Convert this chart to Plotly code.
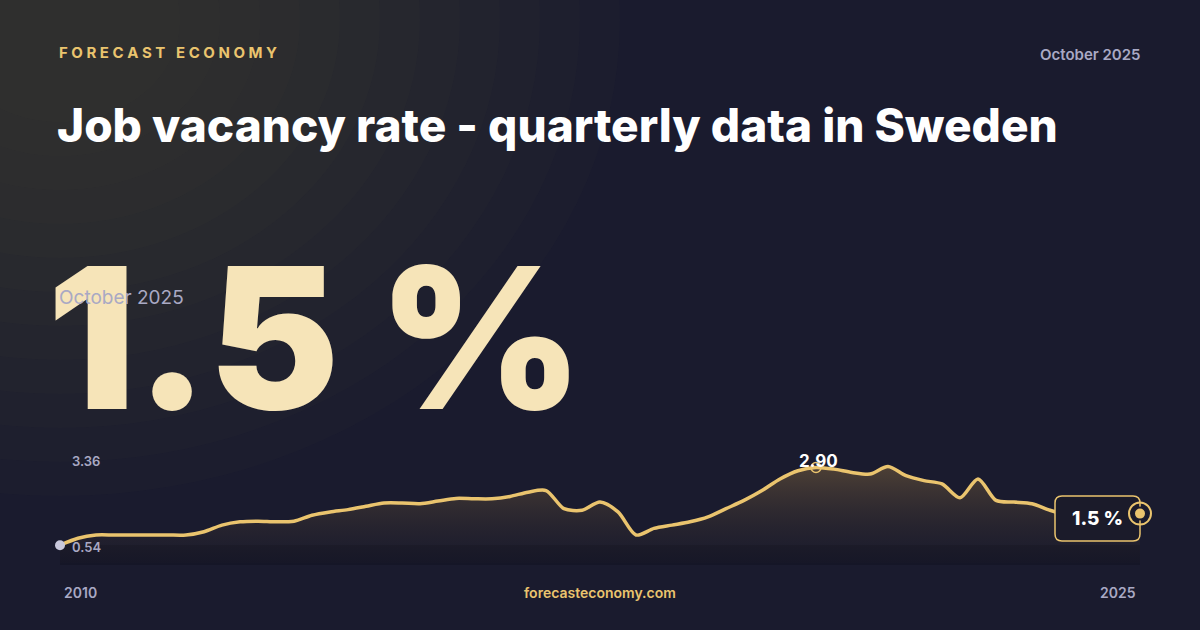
import plotly.graph_objects as go

W, H = 1200, 630

# quarterly job vacancy rate, Sweden, 2010 Q1 .. 2025 Q1
quarters = list(range(61))
values = [0.54, 0.75, 0.85, 0.85, 0.85, 0.85, 0.85, 0.85, 0.95, 1.15,
          1.25, 1.27, 1.25, 1.27, 1.45, 1.55, 1.62, 1.72, 1.82, 1.82,
          1.80, 1.88, 1.96, 1.95, 1.95, 2.02, 2.15, 2.20, 1.65, 1.60,
          1.85, 1.55, 0.85, 1.05, 1.15, 1.25, 1.40, 1.65, 1.90, 2.20,
          2.55, 2.80, 2.90, 2.85, 2.75, 2.70, 2.93, 2.65, 2.50, 2.40,
          1.98, 2.55, 1.90, 1.85, 1.80, 1.60, 1.45, 1.40, 1.45, 1.45,
          1.50]
peak_idx = 42
year_labels = ["2010", "2025"]
y_labels = ["3.36", "0.54"]

GOLD = "#eac46e"
GREY = "#a9a9c4"


def px(x):
    return x / W


def py(y):
    return 1 - y / H


fig = go.Figure()

fig.add_trace(go.Scatter(
    x=quarters, y=values, mode="lines",
    line=dict(color=GOLD, width=3.5, shape="spline", smoothing=0.8),
    fill="tozeroy",
    fillgradient=dict(type="vertical",
                      colorscale=[[0, "rgba(30,28,40,0.2)"], [1, "rgba(120,95,60,0.55)"]]),
    hoverinfo="skip", cliponaxis=False,
))
# start dot
fig.add_trace(go.Scatter(x=[quarters[0]], y=[values[0]], mode="markers", cliponaxis=False,
                         marker=dict(color="#c8c8dc", size=10), hoverinfo="skip"))
# peak marker
fig.add_trace(go.Scatter(x=[quarters[peak_idx]], y=[values[peak_idx]], mode="markers", cliponaxis=False,
                         marker=dict(color="rgba(0,0,0,0)", size=10, line=dict(color=GOLD, width=1.5)),
                         hoverinfo="skip"))

# x range padded a little on the right so the end marker shape isn't clipped
fig.update_xaxes(visible=False, range=[0, 61], domain=[px(60), px(1158)])
fig.update_yaxes(visible=False, range=[0, 3.4], domain=[py(563), py(451)])

shapes = []
# soft warm glow top-left, many faint layers
for k in range(12):
    r = 560 - k * 40
    shapes.append(dict(type="circle", xref="paper", yref="paper",
                       x0=px(60 - r), x1=px(60 + r), y0=py(20 + r * 0.85), y1=py(20 - r * 0.85),
                       fillcolor="rgba(140,110,70,0.022)", line_width=0, layer="below"))
# dark band under chart
shapes.append(dict(type="rect", xref="paper", yref="paper", x0=px(60), x1=px(1140),
                   y0=py(565), y1=py(545), fillcolor="rgba(15,15,25,0.35)", line_width=0, layer="below"))

# rounded callout box (pixel corners converted to paper fractions)
bx0, bx1, by0, by1, r = 1055, 1140, 496, 541, 7
pix_path = [("M", bx0 + r, by0), ("L", bx1 - r, by0), ("Q", bx1, by0, bx1, by0 + r),
            ("L", bx1, by1 - r), ("Q", bx1, by1, bx1 - r, by1), ("L", bx0 + r, by1),
            ("Q", bx0, by1, bx0, by1 - r), ("L", bx0, by0 + r), ("Q", bx0, by0, bx0 + r, by0)]
parts = []
for seg in pix_path:
    nums = seg[1:]
    coords = [f"{px(nums[i]):.5f} {py(nums[i + 1]):.5f}" for i in range(0, len(nums), 2)]
    parts.append(seg[0] + " " + " ".join(coords))
shapes.append(dict(type="path", xref="paper", yref="paper", path=" ".join(parts) + " Z",
                   fillcolor="#1b1b2a", line=dict(color=GOLD, width=1.5)))

# end marker drawn above the box: outer ring + filled dot
for size, fill, edge in [(22, "rgba(0,0,0,0)", GOLD), (12, GOLD, "#1c1c2e")]:
    shapes.append(dict(type="circle", xref="x", yref="y", xsizemode="pixel", ysizemode="pixel",
                       xanchor=quarters[-1], yanchor=values[-1],
                       x0=-size / 2, x1=size / 2, y0=-size / 2, y1=size / 2,
                       fillcolor=fill, line=dict(color=edge, width=2)))

ann = [
    dict(x=px(57), y=py(52), text="F O R E C A S T   E C O N O M Y", xanchor="left",
         font=dict(family="Inter", size=15, color=GOLD, weight=700)),
    dict(x=px(1143), y=py(54), text="October 2025", xanchor="right",
         font=dict(family="Inter", size=15, color=GREY, weight=600)),
    dict(x=px(55), y=py(125), text="Job vacancy rate - quarterly data in Sweden", xanchor="left",
         font=dict(family="Inter", size=46, color="white", weight=800)),
    dict(x=px(45), y=py(337), text="1.5 %", xanchor="left",
         font=dict(family="Inter", size=196, color="#f6e4b8", weight=900)),
    dict(x=px(57), y=py(297), text="October 2025", xanchor="left",
         font=dict(family="Inter", size=19, color=GREY)),
    dict(x=px(70), y=py(461), text=y_labels[0], xanchor="left",
         font=dict(family="Inter", size=13, color=GREY, weight=600)),
    dict(x=px(70), y=py(547), text=y_labels[1], xanchor="left",
         font=dict(family="Inter", size=13, color=GREY, weight=600)),
    dict(x=px(62), y=py(592), text=year_labels[0], xanchor="left",
         font=dict(family="Inter", size=14, color=GREY, weight=600)),
    dict(x=px(1138), y=py(592), text=year_labels[1], xanchor="right",
         font=dict(family="Inter", size=14, color=GREY, weight=600)),
    dict(x=0.5, y=py(592), text="forecasteconomy.com", xanchor="center",
         font=dict(family="Inter", size=14, color=GOLD, weight=600)),
    dict(x=px(1097), y=py(518), text=f"{values[-1]} %", xanchor="center",
         font=dict(family="Inter", size=19, color="white", weight=800)),
    dict(x=px(818), y=py(461), text=f"{values[peak_idx]:.2f}", xanchor="center",
         font=dict(family="Inter", size=17, color="white", weight=700)),
]
for a in ann:
    a.update(xref="paper", yref="paper", showarrow=False, yanchor="middle")

fig.update_layout(
    width=W, height=H, margin=dict(l=0, r=0, t=0, b=0),
    paper_bgcolor="#1a1b2e", plot_bgcolor="rgba(0,0,0,0)",
    showlegend=False, shapes=shapes, annotations=ann,
)

fig.write_html("out.html", config={"displayModeBar": False},
               post_script="document.body.style.margin='0';")
